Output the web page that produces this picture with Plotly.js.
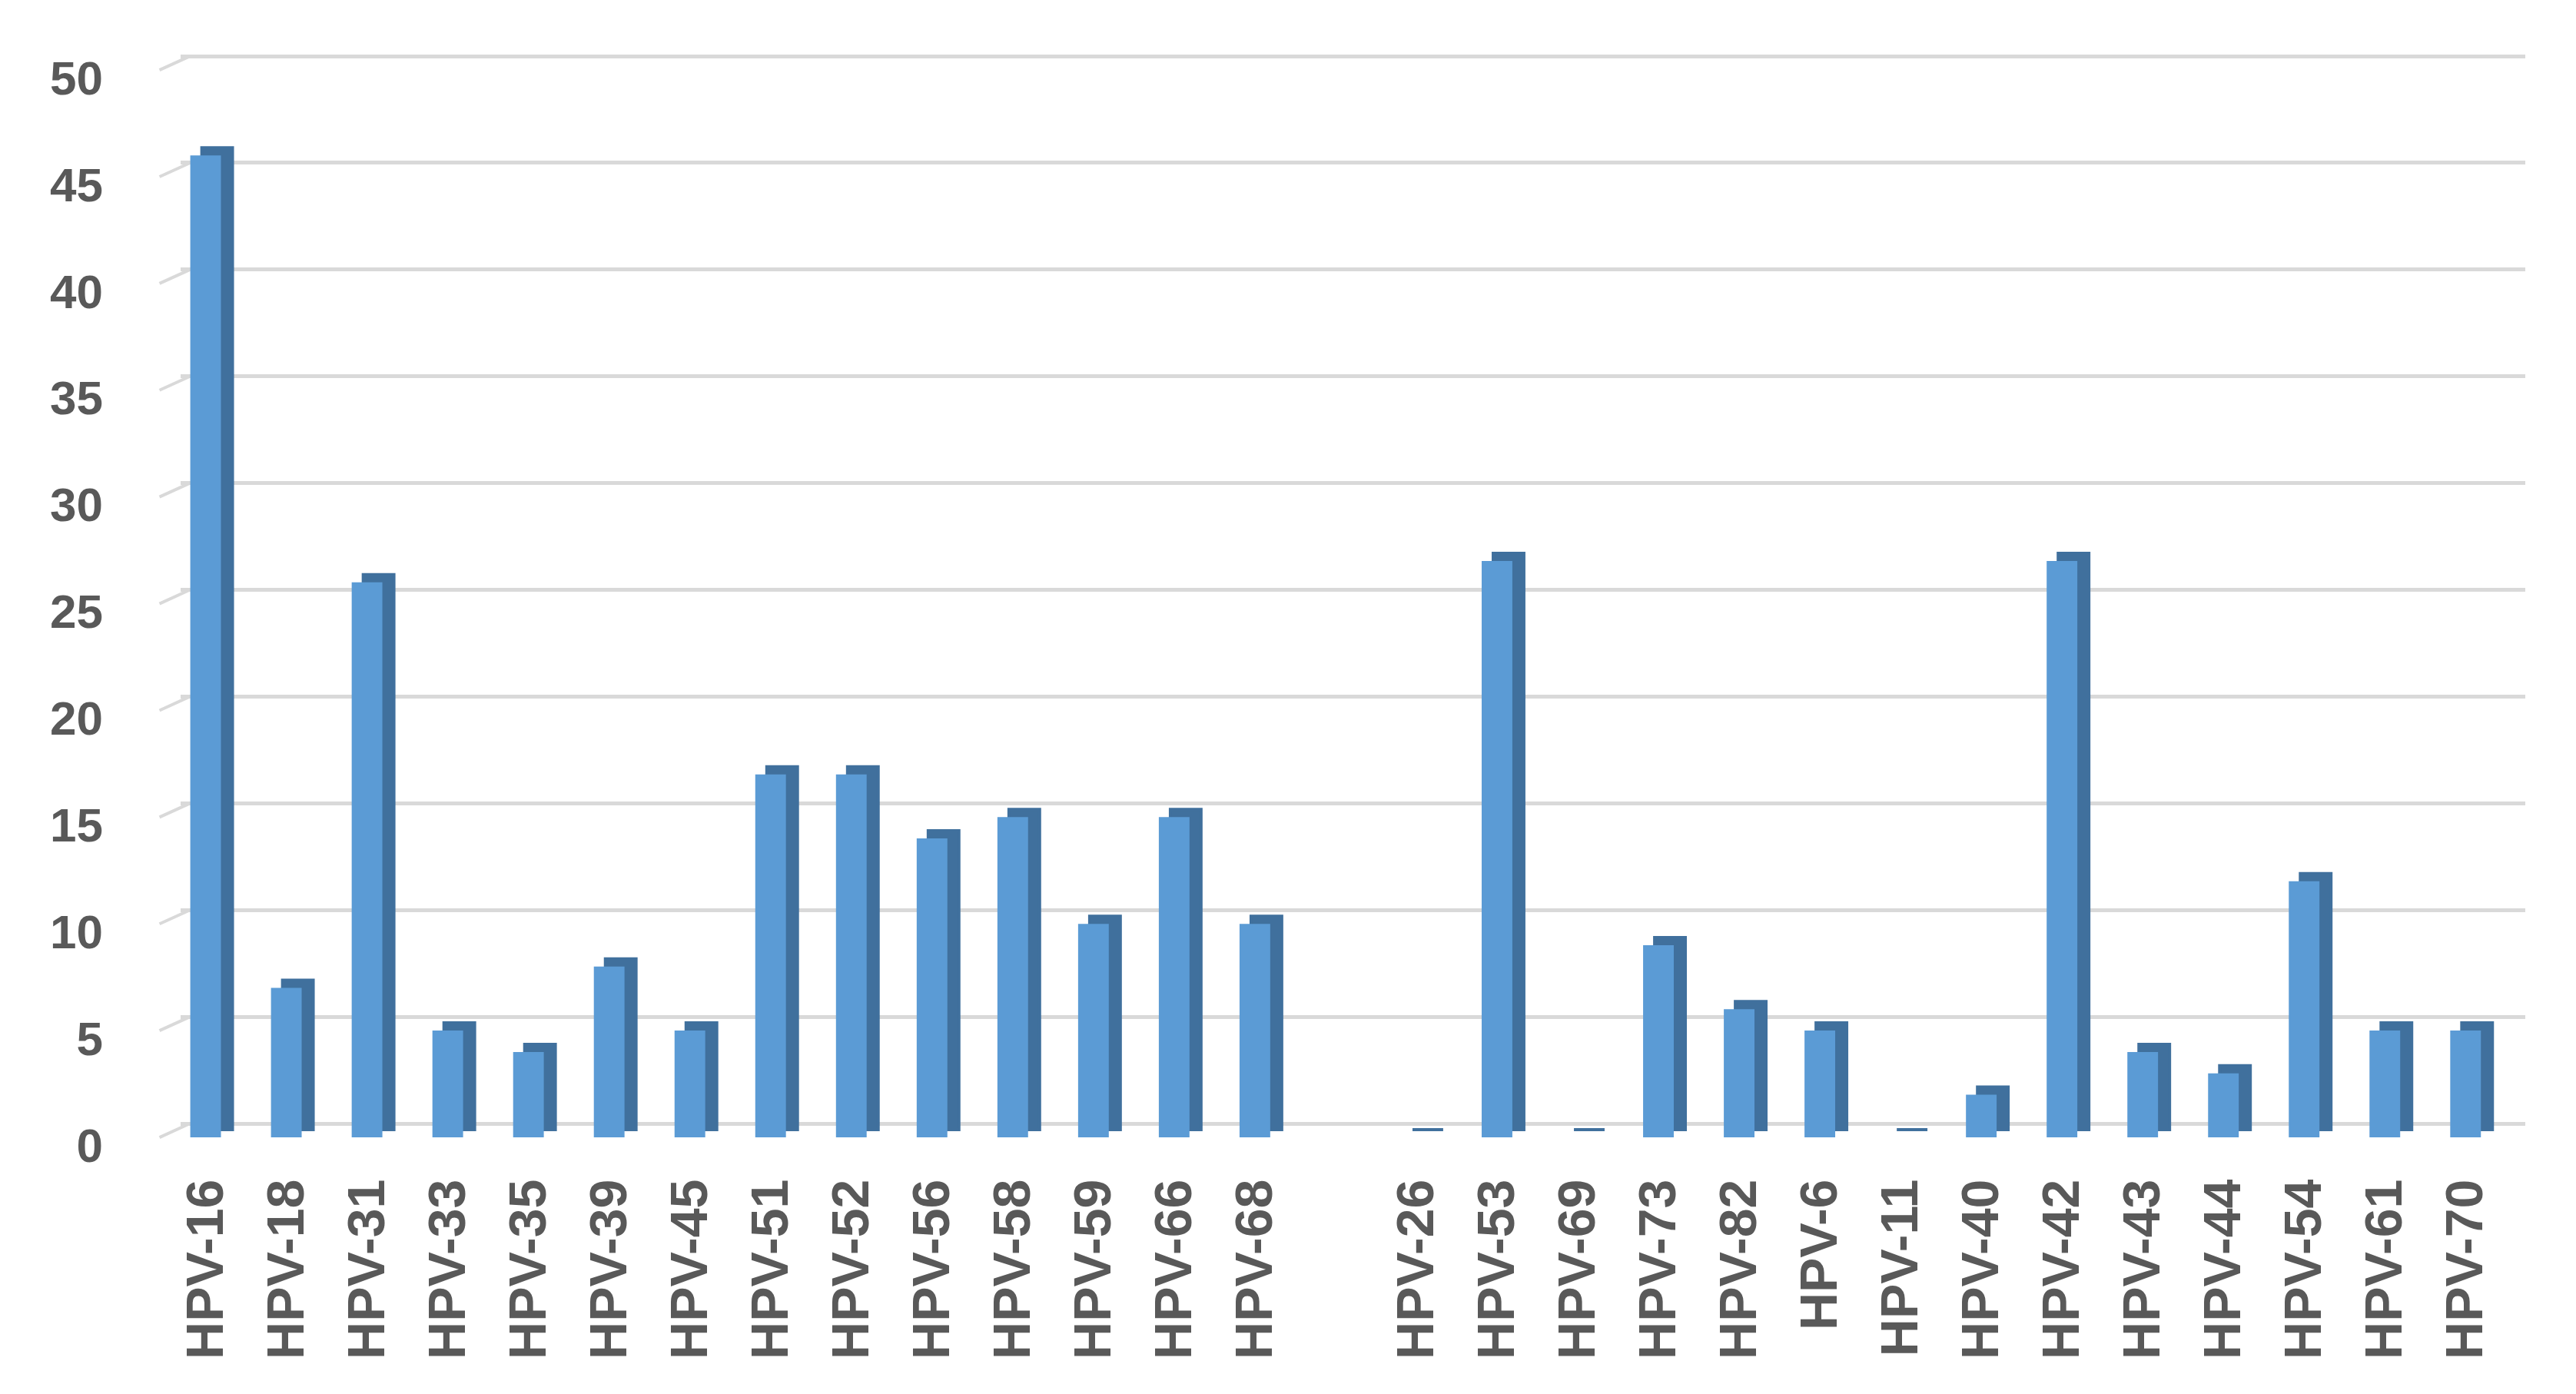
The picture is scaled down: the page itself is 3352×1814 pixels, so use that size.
<!DOCTYPE html>
<html>
<head>
<meta charset="utf-8">
<script src="https://cdn.plot.ly/plotly-3.0.1.min.js"></script>
<style>
  html, body { margin: 0; padding: 0; background: #fff; }
  #chart { width: 3352px; height: 1814px; }
</style>
</head>
<body>
<div id="chart"></div>
<script>
// HPV types (the blank one is the gap Excel leaves between the two groups)
const types = [
  "HPV-16", "HPV-18", "HPV-31", "HPV-33", "HPV-35", "HPV-39", "HPV-45",
  "HPV-51", "HPV-52", "HPV-56", "HPV-58", "HPV-59", "HPV-66", "HPV-68",
  " ",
  "HPV-26", "HPV-53", "HPV-69", "HPV-73", "HPV-82", "HPV-6", "HPV-11",
  "HPV-40", "HPV-42", "HPV-43", "HPV-44", "HPV-54", "HPV-61", "HPV-70",
];
const counts = [
  46, 7, 26, 5, 4, 8, 5,
  17, 17, 14, 15, 10, 15, 10,
  null,
  0, 27, 0, 9, 6, 5, 0,
  2, 27, 4, 3, 12, 5, 5,
];
const yTicks = [0, 5, 10, 15, 20, 25, 30, 35, 40, 45, 50];

const faceColor = "#5B9BD5";
const sideColor = "#40709D";
const gridColor = "#D9D9D9";
const textColor = "#595959";

// dark box behind the face, shifted up/right, fakes the 3D side and top
const depth = {
  type: "bar",
  x: types,
  y: counts,
  base: 0.36,
  width: 0.38,
  offset: -0.047,
  marker: { color: sideColor, line: { color: sideColor, width: 4 } },
  hoverinfo: "skip",
  showlegend: false,
};

const front = {
  type: "bar",
  x: types,
  y: counts,
  width: 0.38,
  offset: -0.19,
  marker: { color: faceColor, line: { width: 0 } },
  showlegend: false,
};

// invisible trace so the back-wall grid axis gets drawn
const wall = {
  type: "scatter",
  mode: "markers",
  x: types,
  y: counts,
  yaxis: "y2",
  marker: { opacity: 0 },
  hoverinfo: "skip",
  showlegend: false,
};

// little slanted stubs where the back-wall gridlines meet the side wall
const stubs = yTicks.map((t) => ({
  type: "line",
  xref: "paper",
  yref: "y2",
  x0: -0.009,
  x1: 0.004,
  y0: t - 0.65,
  y1: t,
  line: { color: gridColor, width: 4 },
  layer: "below",
}));

const layout = {
  width: 3352,
  height: 1814,
  paper_bgcolor: "#ffffff",
  plot_bgcolor: "rgba(0,0,0,0)",
  margin: { l: 235, r: 66, t: 60, b: 324 },
  barmode: "overlay",
  showlegend: false,
  shapes: stubs,
  xaxis: {
    type: "category",
    categoryorder: "array",
    categoryarray: types,
    range: [-0.31, 28.74],
    showgrid: false,
    zeroline: false,
    showline: false,
    ticks: "",
    tickangle: -90,
    ticklabelstandoff: 30,
    tickfont: { family: "Liberation Sans, Arial, sans-serif", size: 68, color: textColor, weight: "bold" },
  },
  yaxis: {
    range: [-0.36, 51.12],
    tickvals: yTicks,
    showgrid: false,
    zeroline: false,
    showline: false,
    ticks: "",
    ticklabelshift: 10,
    ticklabelstandoff: 100,
    tickfont: { family: "Liberation Sans Narrow, Liberation Sans, Arial, sans-serif", size: 62, color: textColor, weight: "bold" },
  },
  yaxis2: {
    overlaying: "y",
    side: "left",
    range: [-1.008, 50.47],
    tickvals: yTicks,
    showticklabels: false,
    showgrid: true,
    gridcolor: gridColor,
    gridwidth: 5,
    zeroline: false,
    showline: false,
    ticks: "",
  },
};

Plotly.newPlot("chart", [wall, depth, front], layout, { staticPlot: true });
</script>
</body>
</html>
